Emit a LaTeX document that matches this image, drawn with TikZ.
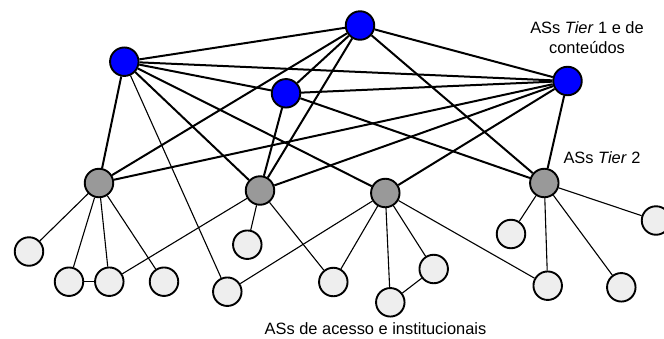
\documentclass[tikz,border=0pt]{standalone}
\usepackage{fontspec}
\setmainfont{Liberation Sans}
\usetikzlibrary{backgrounds}
\definecolor{tierone}{HTML}{0000FF}
\definecolor{tiertwo}{HTML}{999999}
\definecolor{leafc}{HTML}{EEEEEE}
\tikzset{
  asnode/.style={circle, draw=black, line width=1.9pt, minimum size=28.5pt, inner sep=0pt},
  t1/.style={asnode, fill=tierone},
  t2/.style={asnode, fill=tiertwo},
  lf/.style={asnode, fill=leafc},
  thick link/.style={line width=2pt},
  thin link/.style={line width=1.1pt},
  lbl/.style={font=\fontsize{16.4}{20}\selectfont, align=center, inner sep=0pt}
}
\begin{document}
\begin{tikzpicture}[x=1pt,y=-1pt]
\useasboundingbox (0,0) rectangle (664,338);
% Tier 1
\node[t1] (A) at (124.3,61.7) {};
\node[t1] (B) at (360,25.5) {};
\node[t1] (C) at (286,93.3) {};
\node[t1] (D) at (567.5,81) {};
% Tier 2
\node[t2] (G1) at (99,183) {};
\node[t2] (G2) at (260,190.5) {};
\node[t2] (G3) at (385.3,193) {};
\node[t2] (G4) at (544.3,183) {};
% leaves
\node[lf] (L1) at (29,251.5) {};
\node[lf] (L2) at (69,281.7) {};
\node[lf] (L3) at (109.3,281.7) {};
\node[lf] (L4) at (164,281.7) {};
\node[lf] (L5) at (247.3,244.7) {};
\node[lf] (L6) at (227.3,291.7) {};
\node[lf] (L7) at (333.3,282) {};
\node[lf] (L8) at (390.3,302.3) {};
\node[lf] (L9) at (433.7,269) {};
\node[lf] (L10) at (511,234) {};
\node[lf] (L11) at (547.7,285.7) {};
\node[lf] (L12) at (621.3,287.3) {};
\node[lf] (L13) at (656,220.5) {};
% labels
\node[lbl] (t1lbl) at (587,38) {ASs \textit{Tier} 1 e de\\conteúdos};
\node[lbl] (t2lbl) at (602,158) {ASs \textit{Tier} 2};
\node[lbl] (acclbl) at (375.5,329) {ASs de acesso e institucionais};
\begin{scope}[on background layer]
% thick links
\draw[thick link] (A) -- (B);
\draw[thick link] (A) -- (D);
\draw[thick link] (A) -- (C);
\draw[thick link] (A) -- (G1);
\draw[thick link] (A) -- (G2);
\draw[thick link] (A) -- (G3);
\draw[thick link] (B) -- (C);
\draw[thick link] (B) -- (D);
\draw[thick link] (B) -- (G1);
\draw[thick link] (B) -- (G2);
\draw[thick link] (B) -- (G4);
\draw[thick link] (C) -- (D);
\draw[thick link] (C) -- (G2);
\draw[thick link] (C) -- (G4);
\draw[thick link] (D) -- (G1);
\draw[thick link] (D) -- (G2);
\draw[thick link] (D) -- (G3);
\draw[thick link] (D) -- (G4);
% thin links
\draw[thin link] (A) -- (L6);
\draw[thin link] (G1) -- (L1);
\draw[thin link] (G1) -- (L2);
\draw[thin link] (G1) -- (L3);
\draw[thin link] (G1) -- (L4);
\draw[thin link] (L2) -- (L3);
\draw[thin link] (L3) -- (G2);
\draw[thin link] (G2) -- (L5);
\draw[thin link] (G2) -- (L7);
\draw[thin link] (G3) -- (L6);
\draw[thin link] (G3) -- (L7);
\draw[thin link] (G3) -- (L8);
\draw[thin link] (G3) -- (L9);
\draw[thin link] (G3) -- (L11);
\draw[thin link] (L8) -- (L9);
\draw[thin link] (G4) -- (L10);
\draw[thin link] (G4) -- (L11);
\draw[thin link] (G4) -- (L12);
\draw[thin link] (G4) -- (L13);
\end{scope}
\end{tikzpicture}
\end{document}
